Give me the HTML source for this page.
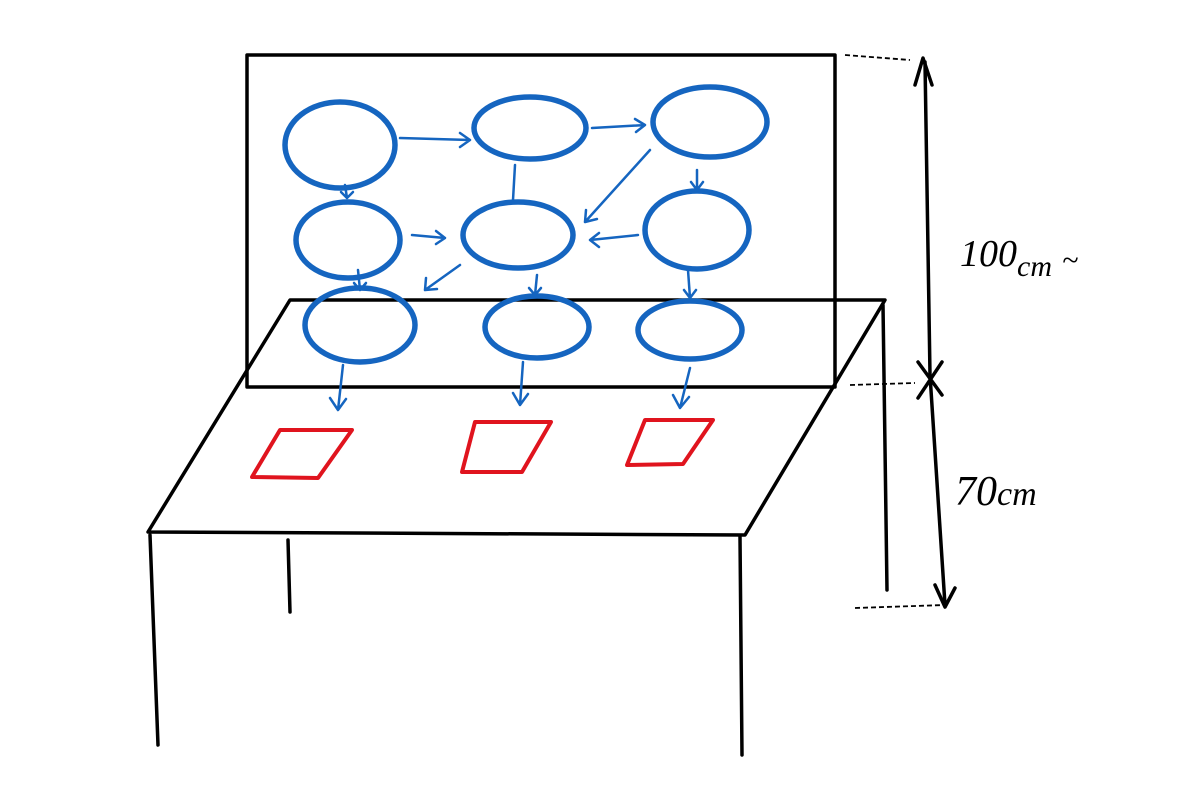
<!DOCTYPE html>
<html><head><meta charset="utf-8"><style>
html,body{margin:0;padding:0;background:#fff;}
svg{display:block}
</style></head><body>
<svg width="1200" height="800" viewBox="0 0 1200 800" xmlns="http://www.w3.org/2000/svg">
<g fill="none" stroke="#000" stroke-width="3.5" stroke-linecap="round" stroke-linejoin="round">
<rect x="247" y="55" width="588" height="332"/>
<polygon points="290,300 885,300 745,535 148,532"/>
<path d="M150 535 L158 745"/>
<path d="M288 540 L290 612"/>
<path d="M740 537 L742 755"/>
<path d="M883 305 L887 590"/>
<path d="M925 62 L930 375 L945 605"/>
<path d="M915 85 L923 58 L932 85"/>
<path d="M935 585 L945 607 L955 588"/>
<path d="M918 362 L942 395 M942 362 L918 398"/>
</g>
<g fill="none" stroke="#000" stroke-width="1.8" stroke-dasharray="5 3">
<path d="M845 55 L910 60"/>
<path d="M850 385 L915 383"/>
<path d="M855 608 L945 605"/>
</g>
<g fill="none" stroke="#1565c0" stroke-width="5.5">
<ellipse cx="340" cy="145" rx="55" ry="43"/>
<ellipse cx="530" cy="128" rx="56" ry="31"/>
<ellipse cx="710" cy="122" rx="57" ry="35"/>
<ellipse cx="348" cy="240" rx="52" ry="38"/>
<ellipse cx="518" cy="235" rx="55" ry="33"/>
<ellipse cx="697" cy="230" rx="52" ry="39"/>
<ellipse cx="360" cy="325" rx="55" ry="37"/>
<ellipse cx="537" cy="327" rx="52" ry="31"/>
<ellipse cx="690" cy="330" rx="52" ry="29"/>
</g>
<g fill="none" stroke="#1565c0" stroke-width="2.5" stroke-linecap="round" stroke-linejoin="round">
<path d="M400 138 L470 140 M460 133 L470 140 L460 147"/>
<path d="M592 128 L645 125 M635 119 L645 125 L636 132"/>
<path d="M697 170 L697 190 M691 182 L697 190 L703 182"/>
<path d="M345 185 L347 198 M341 192 L347 198 L353 192"/>
<path d="M412 235 L445 238 M436 231 L445 238 L436 244"/>
<path d="M638 235 L590 240 M599 233 L590 240 L599 247"/>
<path d="M650 150 L585 222 M586 210 L585 222 L597 219"/>
<path d="M515 165 L513 200"/>
<path d="M460 265 L425 290 M426 278 L425 290 L437 289"/>
<path d="M358 270 L360 290 M354 283 L360 290 L366 283"/>
<path d="M537 275 L535 295 M529 288 L535 295 L541 288"/>
<path d="M688 270 L690 298 M684 290 L690 298 L696 290"/>
<path d="M343 365 L338 410 M330 398 L338 410 L346 399"/>
<path d="M523 362 L520 405 M513 393 L520 405 L528 394"/>
<path d="M690 368 L680 408 M673 395 L680 408 L689 397"/>
</g>
<g fill="none" stroke="#e0141e" stroke-width="4" stroke-linejoin="round">
<polygon points="280,430 352,430 318,478 252,477"/>
<polygon points="475,422 551,422 522,472 462,472"/>
<polygon points="645,420 713,420 683,464 627,465"/>
</g>
<g font-family="Liberation Serif, serif" font-style="italic" fill="#000">
<text x="960" y="266" font-size="38">100<tspan font-size="30" dy="10">cm</tspan><tspan dx="10" dy="-6" font-size="30">~</tspan></text>
<text x="955" y="505" font-size="42">70<tspan font-size="34">cm</tspan></text>
</g>
</svg>
</body></html>
